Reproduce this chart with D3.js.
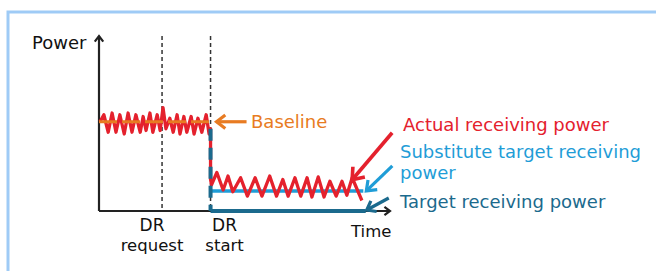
<!DOCTYPE html>
<html>
<head>
<meta charset="utf-8">
<script src="https://cdn.jsdelivr.net/npm/d3@7"></script>
<style>
  body { margin: 0; background: #fff; }
  svg text { font-family: "DejaVu Sans", sans-serif; }
</style>
</head>
<body>
<div id="chart"></div>
<script>
// Power levels (kW, arbitrary units)
const baselinePower = 51;
const substitutePower = 11.5;
const targetPower = 0;

// Event times (min)
const drRequestTime = 13;
const drStartTime = 23;
const targetEndTime = 55;
const substituteEndTime = 54.5;

// Actual receiving power before DR start
const beforeTimes = [0.2, 1.0, 1.9, 2.7, 3.5, 4.3, 5.2, 6.0, 6.8, 7.6, 8.5, 9.1, 9.7, 10.5, 11.1, 12.0,
  12.6, 13.2, 13.8, 14.6, 15.3, 16.1, 16.7, 17.5, 18.1, 19.0, 19.6, 20.4, 21.2, 22.1, 22.7, 23.0];
const beforePower = [51, 55, 45, 56, 45, 55, 44, 56, 45, 55, 45, 54, 46, 56, 45, 55,
  46, 59, 47, 53, 45, 55, 44, 54, 45, 54, 44, 53, 45, 55, 44, 47];

// Actual receiving power after DR start
const afterTimes = [23.0, 23.2, 24.3, 25.6, 26.6, 27.6, 29.2, 30.6, 32.2, 33.6, 35.2, 36.6, 37.9, 39.0,
  40.4, 41.6, 42.9, 43.9, 45.2, 46.4, 47.6, 48.9, 50.1, 51.1, 52.2, 54.2];
const afterPower = [18, 15, 22, 12, 20, 11, 19, 8.5, 19, 8.5, 20, 8.5, 18, 8.5,
  19, 8.5, 19, 8, 19.5, 8, 17, 8.5, 17, 9, 19, 6];

const eventLabels = [["DR", "request"], ["DR", "start"]];
const seriesLabels = ["Actual receiving power", "Substitute target receiving", "power", "Target receiving power"];

const colors = {
  red: "#e4212d",
  orange: "#e87b22",
  light: "#1f9dd7",
  teal: "#1b6a8d",
  frame: "#9fcbf6"
};

const W = 656, H = 271;
const svg = d3.select("#chart").append("svg")
  .attr("width", W)
  .attr("height", H);

// frame
svg.append("rect")
  .attr("x", 8).attr("y", 12)
  .attr("width", 700).attr("height", 300)
  .attr("fill", "none")
  .attr("stroke", colors.frame)
  .attr("stroke-width", 3);

const x = d3.scaleLinear().domain([0, 60]).range([99, 390]);
const y = d3.scaleLinear().domain([0, 100]).range([211, 36]);

function arrow(x1, y1, x2, y2, color, width, head) {
  const a = Math.atan2(y2 - y1, x2 - x1);
  const g = svg.append("g")
    .attr("stroke", color)
    .attr("stroke-width", width)
    .attr("fill", "none")
    .attr("stroke-linecap", "butt");
  g.append("line").attr("x1", x1).attr("y1", y1).attr("x2", x2).attr("y2", y2);
  const spread = 0.65;
  const pts = [
    [x2 - head * Math.cos(a - spread), y2 - head * Math.sin(a - spread)],
    [x2, y2],
    [x2 - head * Math.cos(a + spread), y2 - head * Math.sin(a + spread)]
  ];
  g.append("path").attr("d", d3.line()(pts)).attr("stroke-linejoin", "miter");
}

// axes
arrow(x(0), y(0), x(0), y(100), "#222", 2.2, 7);
arrow(x(0), y(0), x(60), y(0), "#222", 2.2, 7);

// event dashed lines
[drRequestTime, drStartTime].forEach(t => {
  svg.append("line")
    .attr("x1", x(t)).attr("x2", x(t))
    .attr("y1", y(100)).attr("y2", y(0))
    .attr("stroke", "#333")
    .attr("stroke-width", 1.5)
    .attr("stroke-dasharray", "4,3");
});

const line = d3.line().x(d => x(d[0])).y(d => y(d[1]));

// substitute target
svg.append("path")
  .attr("d", line([[drStartTime, substitutePower], [substituteEndTime, substitutePower]]))
  .attr("stroke", colors.light)
  .attr("stroke-width", 3.5)
  .attr("fill", "none");

// target
svg.append("path")
  .attr("d", line([[drStartTime, targetPower], [targetEndTime, targetPower]]))
  .attr("stroke", colors.teal)
  .attr("stroke-width", 4)
  .attr("fill", "none");

// actual receiving power
const actual = d3.zip(beforeTimes, beforePower).concat(d3.zip(afterTimes, afterPower));
svg.append("path")
  .attr("d", line(actual))
  .attr("stroke", colors.red)
  .attr("stroke-width", 3.3)
  .attr("stroke-linejoin", "round")
  .attr("fill", "none");

// target drop (over the red drop)
svg.append("path")
  .attr("d", line([[drStartTime, beforePower[beforePower.length - 1]], [drStartTime, targetPower]]))
  .attr("stroke", colors.teal)
  .attr("stroke-width", 4)
  .attr("stroke-dasharray", "12,7")
  .attr("fill", "none");

// baseline
svg.append("path")
  .attr("d", line([[0, baselinePower], [drStartTime, baselinePower]]))
  .attr("stroke", colors.orange)
  .attr("stroke-width", 3)
  .attr("stroke-dasharray", "18,5")
  .attr("fill", "none");

// annotation arrows
const bx = x(drStartTime) + 6, by = y(baselinePower);
arrow(bx + 30, by, bx, by, colors.orange, 3.2, 11);

const ax = x(52.2), ay = y(19) + 2;
arrow(ax + 40, ay - 47, ax, ay, colors.red, 3.6, 13);

const sx = x(substituteEndTime) + 3, sy = y(substitutePower);
arrow(sx + 26, sy - 25, sx, sy, colors.light, 3.2, 11);

const tx = x(targetEndTime) + 1, ty = y(targetPower) - 1;
arrow(tx + 22, ty - 12, tx, ty, colors.teal, 3.2, 10);

// texts
function label(txt, px, py, color, size, anchor) {
  svg.append("text")
    .attr("x", px).attr("y", py)
    .attr("fill", color)
    .attr("font-size", size)
    .attr("text-anchor", anchor || "start")
    .text(txt);
}

label("Power", 32, 49, "#111", 18);
label("Time", 351, 237, "#111", 16.5);
label("Baseline", 251, 128, colors.orange, 18);
label(seriesLabels[0], 403, 131, colors.red, 18);
label(seriesLabels[1], 400, 158, colors.light, 18);
label(seriesLabels[2], 400, 179, colors.light, 18);
label(seriesLabels[3], 400, 208, colors.teal, 18);

const eventX = [x(drRequestTime) - 10, x(drStartTime) + 14];
eventLabels.forEach((lines, i) => {
  label(lines[0], eventX[i], 231, "#111", 17, "middle");
  label(lines[1], eventX[i], 251, "#111", 16.5, "middle");
});
</script>
</body>
</html>
